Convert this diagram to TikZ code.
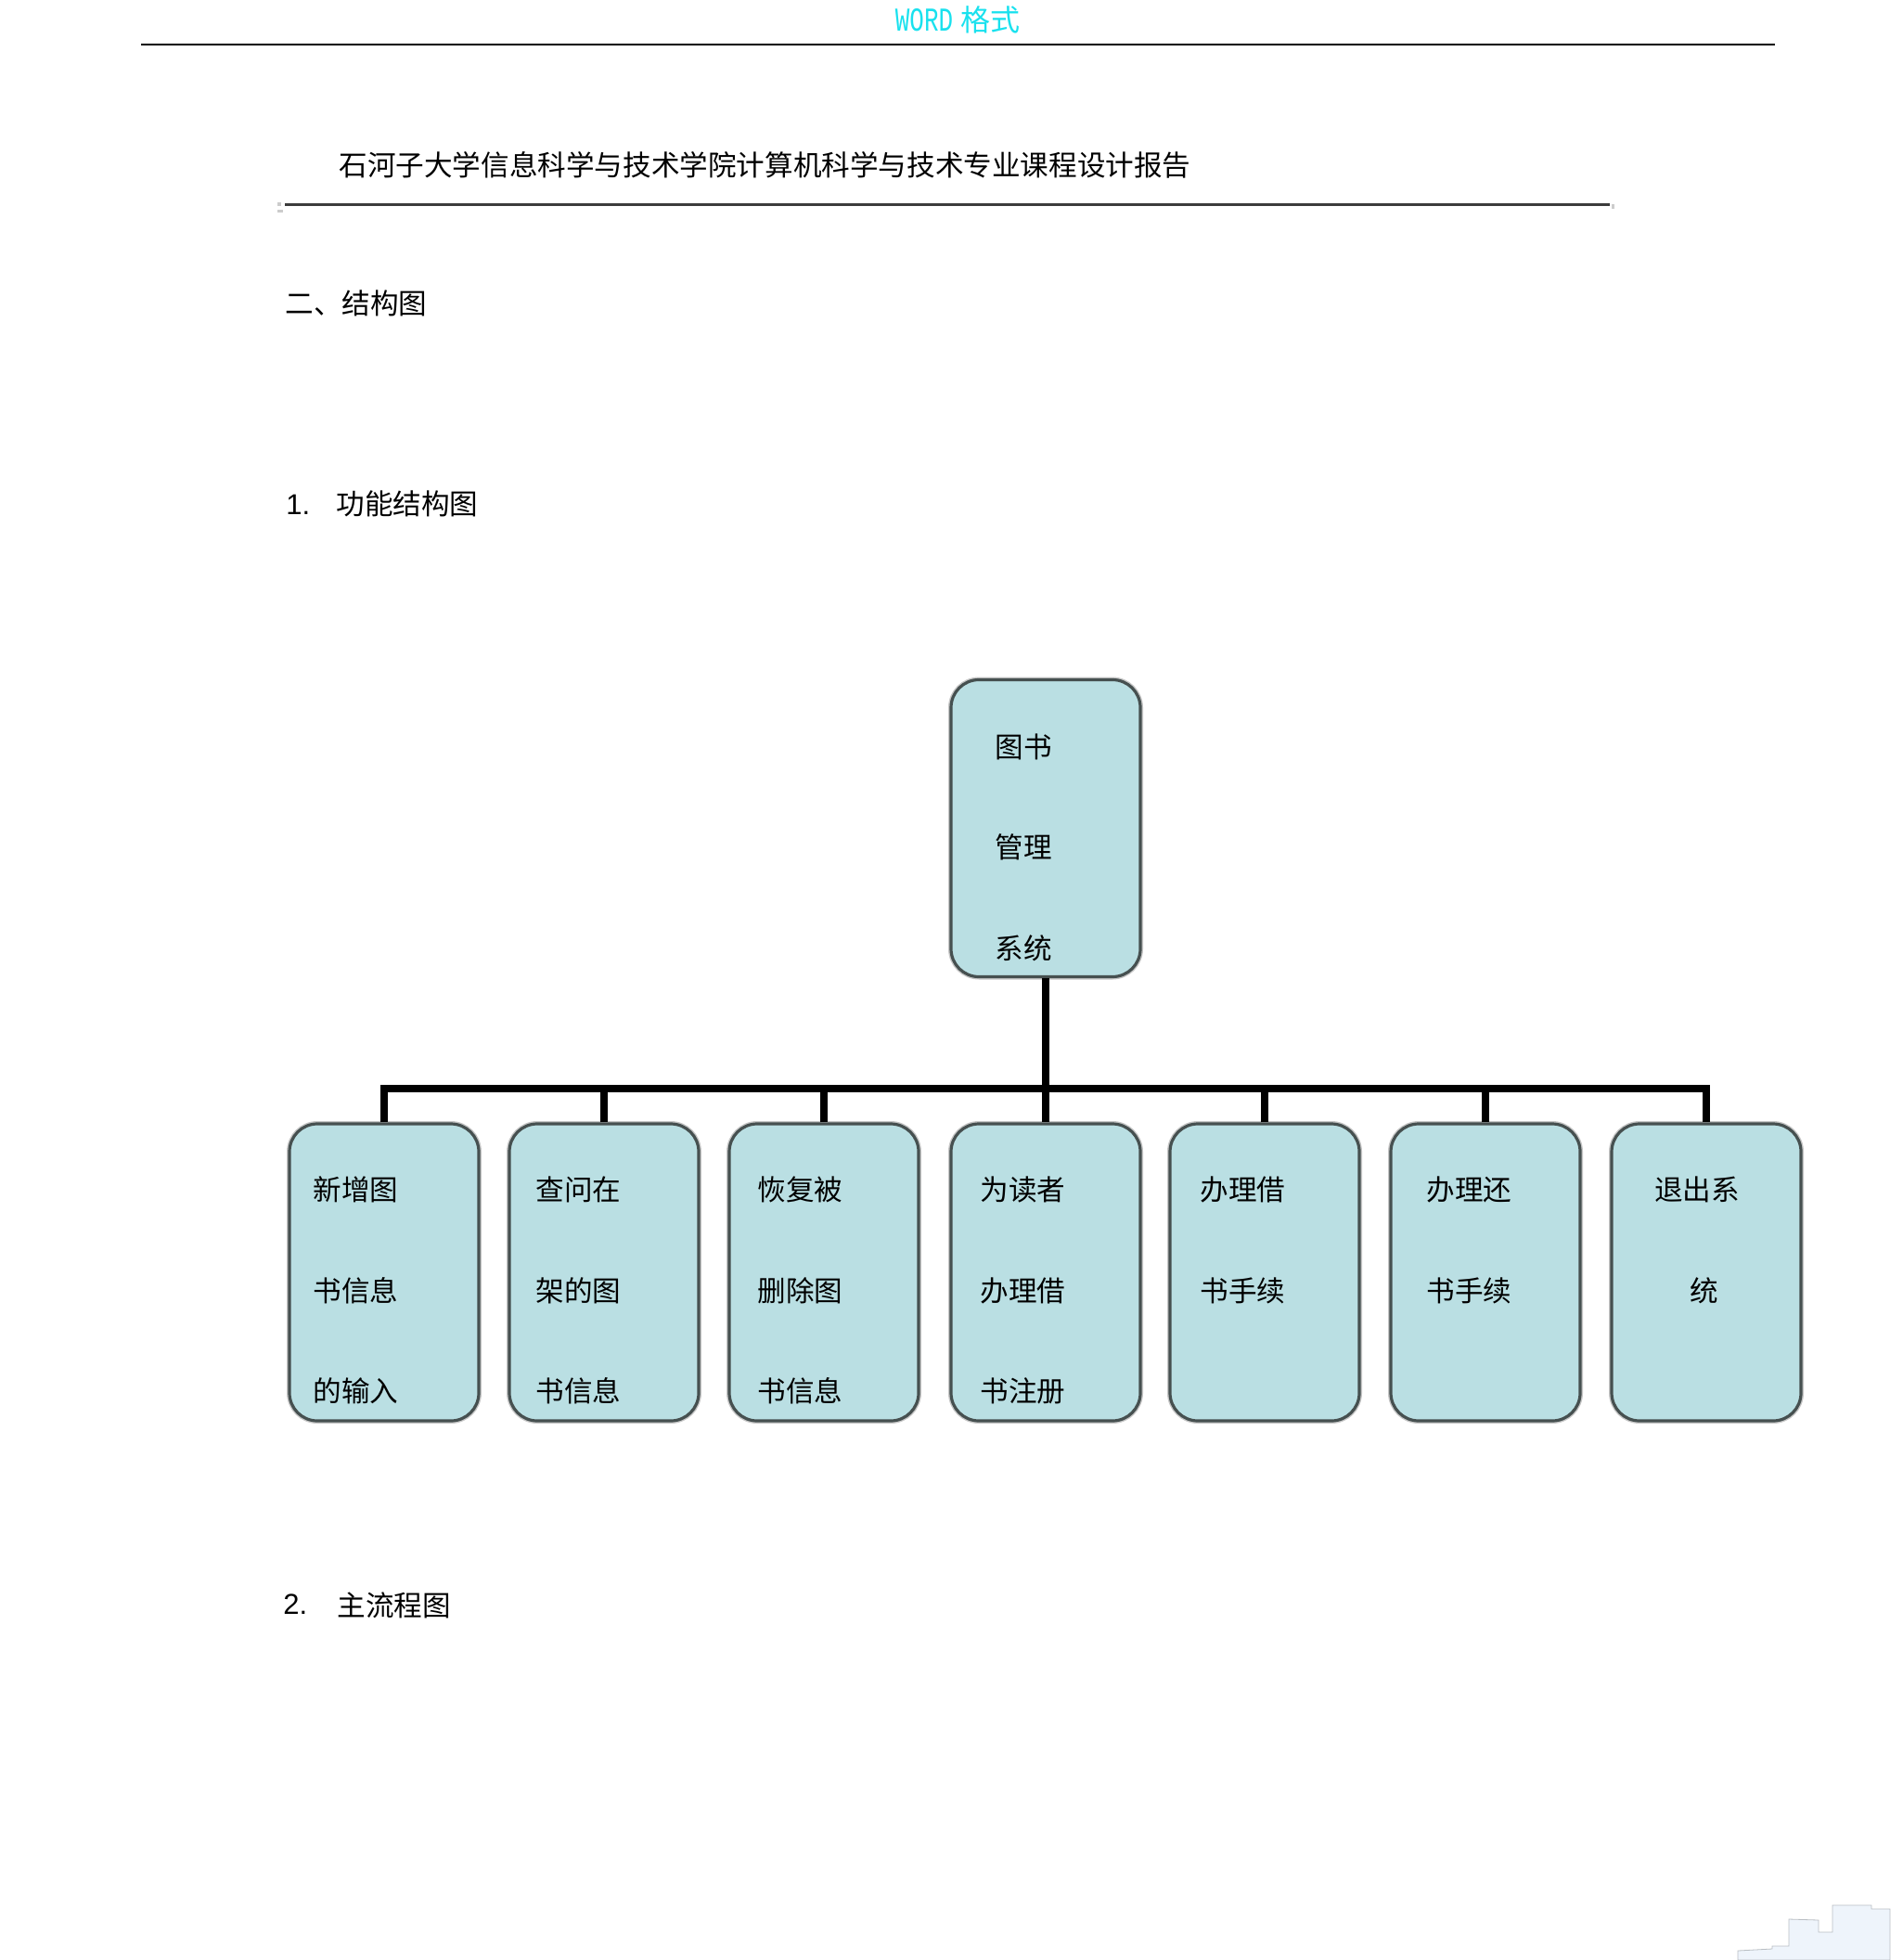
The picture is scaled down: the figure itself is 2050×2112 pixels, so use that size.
\documentclass[tikz,border=0pt]{standalone}
\usepackage{fontspec}
\newfontfamily\cjk{Noto Sans CJK SC}
\newfontfamily\arialf{Liberation Sans}
\newfontfamily\hdrmono[FakeStretch=0.72]{Liberation Mono}
\definecolor{boxfill}{RGB}{186,223,227}
\definecolor{boxline}{RGB}{70,80,80}
\definecolor{hdrcyan}{RGB}{25,225,238}
\definecolor{rulegray}{RGB}{60,60,60}
\definecolor{artfill}{RGB}{238,244,251}
\definecolor{artline}{RGB}{185,190,195}
\tikzset{
  cbox/.style={rectangle, rounded corners=15pt, fill=boxfill, draw=boxline, line width=1.6pt,
    minimum width=102pt, minimum height=160pt, inner sep=0pt,
    preaction={draw=gray!45, line width=3pt}},
  lbl/.style={anchor=west, inner sep=0pt, font=\cjk\fontsize{15.3}{18}\selectfont},
  clbl/.style={anchor=center, inner sep=0pt, font=\cjk\fontsize{15.3}{18}\selectfont},
  numlbl/.style={anchor=west, inner sep=0pt, font=\arialf\fontsize{15.5}{18}\selectfont},
  conn/.style={draw=black, line width=3.6pt, line join=miter},
}
\begin{document}
\begin{tikzpicture}[x=0.5pt,y=-0.5pt]
\useasboundingbox (0,0) rectangle (2050,2112);

% page header
\node[anchor=center, inner sep=0pt, text=hdrcyan] (hdr) at (1032,21)
  {{\hdrmono\fontsize{18}{20}\selectfont WORD}\hspace{4pt}{\cjk\fontsize{16}{20}\selectfont 格式}};
\draw[black, line width=0.8pt] (152,48) -- (1913,48);

% title and rule
\node[lbl] (title) at (365,178) {石河子大学信息科学与技术学院计算机科学与技术专业课程设计报告};
\draw[rulegray, line width=1.5pt] (307,221) -- (1735,221);
\fill[gray!40] (299,218) rectangle (303,222);
\fill[gray!40] (299,226) rectangle (305,229);
\fill[gray!40] (1737,220) rectangle (1740,225);

% section headings
\node[lbl] (sec) at (307,327) {二、结构图};
\node[numlbl] (n1) at (308,544) {1.};
\node[lbl] (h1) at (362,543) {功能结构图};
\node[numlbl] (n2) at (305,1729) {2.};
\node[lbl] (h2) at (363,1730) {主流程图};

% connectors
\coordinate (bus) at (1127,1173);
\node[cbox] (root) at (1127,892.5) {};
\node[cbox] (c1) at (414,1371) {};
\node[cbox] (c2) at (651,1371) {};
\node[cbox] (c3) at (888,1371) {};
\node[cbox] (c4) at (1127,1371) {};
\node[cbox] (c5) at (1363,1371) {};
\node[cbox] (c6) at (1601,1371) {};
\node[cbox] (c7) at (1839,1371) {};

\draw[conn] (root.south) -- (c4.north);
\draw[conn] (c1.north) -- (c1.north |- bus) -- (c7.north |- bus) -- (c7.north);
\draw[conn] (c2.north) -- (c2.north |- bus);
\draw[conn] (c3.north) -- (c3.north |- bus);
\draw[conn] (c5.north) -- (c5.north |- bus);
\draw[conn] (c6.north) -- (c6.north |- bus);

% root text
\node[lbl] (r1) at (1072,805) {图书};
\node[lbl] (r2) at (1072,913) {管理};
\node[lbl] (r3) at (1072,1022) {系统};

% child texts
\node[lbl] (c1a) at (337,1282) {新增图};
\node[lbl] (c1b) at (337,1391) {书信息};
\node[lbl] (c1c) at (337,1499) {的输入};

\node[lbl] (c2a) at (577,1282) {查问在};
\node[lbl] (c2b) at (577,1391) {架的图};
\node[lbl] (c2c) at (577,1499) {书信息};

\node[lbl] (c3a) at (816,1282) {恢复被};
\node[lbl] (c3b) at (816,1391) {删除图};
\node[lbl] (c3c) at (816,1499) {书信息};

\node[lbl] (c4a) at (1056,1282) {为读者};
\node[lbl] (c4b) at (1056,1391) {办理借};
\node[lbl] (c4c) at (1056,1499) {书注册};

\node[lbl] (c5a) at (1293,1282) {办理借};
\node[lbl] (c5b) at (1293,1391) {书手续};

\node[lbl] (c6a) at (1537,1282) {办理还};
\node[lbl] (c6b) at (1537,1391) {书手续};

\node[clbl] (c7a) at (1829,1282) {退出系};
\node[clbl] (c7b) at (1837,1391) {统};

% faint scan artefact, bottom right
\filldraw[fill=artfill, draw=artline, line width=0.4pt]
  (1873,2112) -- (1873,2102) -- (1910,2100) -- (1910,2097) -- (1928,2097)
  -- (1928,2068) -- (1960,2069) -- (1960,2082) -- (1975,2082) -- (1975,2053)
  -- (2017,2053) -- (2017,2057) -- (2037,2057) -- (2037,2112) -- cycle;
\end{tikzpicture}
\end{document}
